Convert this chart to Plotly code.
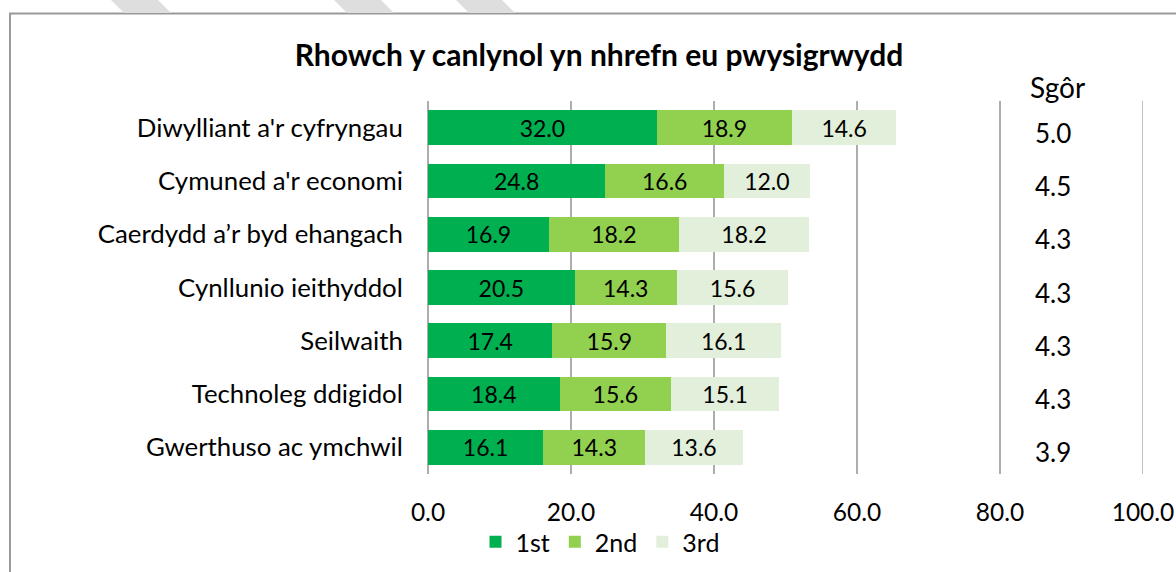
import plotly.graph_objects as go

categories = ["Diwylliant a'r cyfryngau", "Cymuned a'r economi", "Caerdydd a’r byd ehangach",
              "Cynllunio ieithyddol", "Seilwaith", "Technoleg ddigidol", "Gwerthuso ac ymchwil"]
first = [32.0, 24.8, 16.9, 20.5, 17.4, 18.4, 16.1]
second = [18.9, 16.6, 18.2, 14.3, 15.9, 15.6, 14.3]
third = [14.6, 12.0, 18.2, 15.6, 16.1, 15.1, 13.6]
score = [5.0, 4.5, 4.3, 4.3, 4.3, 4.3, 3.9]
series_names = ["1st", "2nd", "3rd"]
x_ticks = [0, 20, 40, 60, 80, 100]

colors = ["#00B050", "#92D050", "#E2EFDA"]
FONT = "Lato"
GRID = "#ADADAD"

W, H = 1176, 572
L, R, T, B = 428, 33, 101, 98
PW, PH = W - L - R, H - T - B


def px(x):
    return (x - L) / PW


def py(y):
    return (H - B - y) / PH


fig = go.Figure()
for name, vals, col in zip(series_names, [first, second, third], colors):
    fig.add_trace(go.Bar(
        y=categories, x=vals, name=name, orientation="h",
        marker=dict(color=col, line=dict(width=0)),
        text=[f"{v:.1f}" for v in vals], textposition="inside",
        insidetextanchor="middle", constraintext="none",
        textfont=dict(color="black", size=23, family=FONT),
        hoverinfo="skip",
    ))

annotations = [dict(x=px(1057), y=py(87), xref="paper", yref="paper", xanchor="center", yanchor="middle",
                    text="Sgôr", showarrow=False, font=dict(size=28, family=FONT, color="black"))]
for c, s in zip(categories, score):
    annotations.append(dict(x=87.4, y=c, xref="x", yref="y", xanchor="center", text=f"{s:.1f}",
                            showarrow=False, yshift=-5, font=dict(size=26, family=FONT, color="black")))

shapes = [dict(type="rect", xref="paper", yref="paper", x0=px(10), x1=px(1190), y0=py(13.5), y1=py(600),
               line=dict(color="#999999", width=2), fillcolor="rgba(0,0,0,0)", layer="below")]
for (a, b) in [(111, 158), (334, 381), (456, 502)]:
    d = (f"M {px(a)} {py(0)} L {px(b)} {py(0)} L {px(b + 13)} {py(13)} L {px(a + 13)} {py(13)} Z")
    shapes.append(dict(type="path", xref="paper", yref="paper", path=d,
                       fillcolor="#DEDEDE", line=dict(width=0), layer="below"))
# gridline at the right end of the range (plotly omits the edge gridline)
shapes.append(dict(type="line", xref="x", yref="paper", x0=x_ticks[-1], x1=x_ticks[-1], y0=0, y1=1,
                   line=dict(color=GRID, width=1.5), layer="below"))

fig.update_layout(
    width=W, height=H,
    margin=dict(l=L, r=R, t=T, b=B, pad=0, autoexpand=False),
    barmode="stack", bargap=0.35,
    paper_bgcolor="white", plot_bgcolor="white",
    title=dict(text="<b>Rhowch y canlynol yn nhrefn eu pwysigrwydd</b>", xref="container", x=599 / W,
               xanchor="center", yref="container", y=1 - 55 / H, yanchor="middle",
               font=dict(size=30, family=FONT, color="black")),
    font=dict(family=FONT, color="black", size=20),
    xaxis=dict(range=[0, 100], tickvals=x_ticks, ticktext=[f"{v:.1f}" for v in x_ticks],
               automargin=False,
               showgrid=True, gridcolor=GRID, gridwidth=1.5, zeroline=True, zerolinecolor=GRID,
               zerolinewidth=1.5, showline=False, ticks="outside", ticklen=17,
               tickcolor="rgba(0,0,0,0)",
               tickfont=dict(size=24.5, family=FONT, color="black"), fixedrange=True),
    yaxis=dict(categoryorder="array", categoryarray=categories, autorange="reversed",
               automargin=False,
               showgrid=False, zeroline=False, showline=False,
               ticks="outside", ticklen=19, tickcolor="rgba(0,0,0,0)",
               tickfont=dict(size=25.8, family=FONT, color="black"), fixedrange=True),
    legend=dict(orientation="h", x=px(600), xanchor="center", y=py(542), yanchor="middle",
                font=dict(size=25, family=FONT, color="black"), traceorder="normal",
                itemwidth=30, bgcolor="rgba(0,0,0,0)"),
    annotations=annotations, shapes=shapes,
    showlegend=True,
)

fig.write_html("out.html", config={"displayModeBar": False},
               post_script="document.body.style.margin='0';document.body.style.overflow='hidden';")
